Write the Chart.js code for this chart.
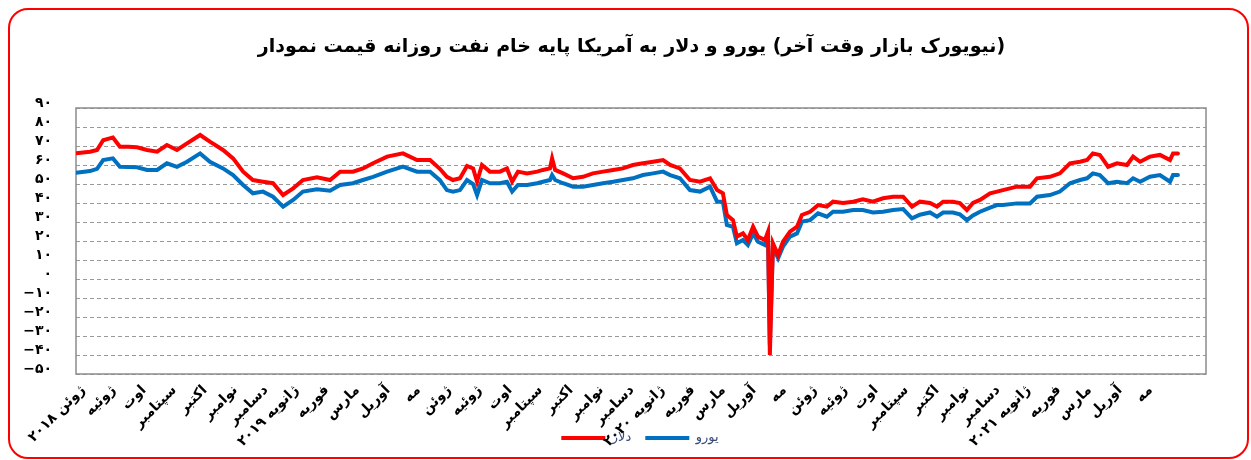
<!DOCTYPE html>
<html>
<head>
<meta charset="utf-8">
<script src="https://cdn.jsdelivr.net/npm/chart.js@4.4.1/dist/chart.umd.min.js"></script>
<style>
  body { margin: 0; background: #fff; }
  #wrap { position: relative; width: 1251px; height: 460px; }
  #frame {
    position: absolute; left: 8px; top: 8px; width: 1241px; height: 451px;
    box-sizing: border-box; border: 2px solid #ff0000; border-radius: 20px;
    pointer-events: none;
  }
</style>
</head>
<body>
<div id="wrap">
  <canvas id="oilChart" width="1251" height="460"></canvas>
  <div id="frame"></div>
</div>
<script>
// months since June 2018
const dates = [
  -0.23, 0.23, 0.46, 0.66, 0.98, 1.21, 1.48, 1.77, 2.10, 2.43, 2.75, 3.08, 3.41, 3.84, 4.16, 4.59,
  4.92, 5.25, 5.57, 5.90, 6.23, 6.56, 6.89, 7.21, 7.67, 8.10, 8.43, 8.85, 9.18, 9.51, 9.97, 10.49,
  10.95, 11.38, 11.70, 11.93, 12.13, 12.36, 12.59, 12.79, 12.92, 13.08, 13.34, 13.67, 13.90, 14.07,
  14.26, 14.56, 14.89, 15.08, 15.31, 15.38, 15.48, 15.74, 16.07, 16.39, 16.72, 17.05, 17.38, 17.70,
  18.03, 18.36, 18.69, 19.02, 19.25, 19.57, 19.90, 20.23, 20.56, 20.79, 20.98, 21.11, 21.31, 21.44,
  21.64, 21.80, 21.97, 22.13, 22.36, 22.46, 22.52, 22.62, 22.79, 22.95, 23.18, 23.41, 23.57, 23.84,
  24.10, 24.39, 24.59, 24.92, 25.25, 25.57, 25.90, 26.23, 26.56, 26.89, 27.18, 27.44, 27.77, 28.00,
  28.20, 28.52, 28.75, 28.98, 29.18, 29.41, 29.74, 29.97, 30.16, 30.62, 31.05, 31.28, 31.70, 32.03,
  32.36, 32.69, 32.92, 33.11, 33.34, 33.61, 33.90, 34.23, 34.43, 34.66, 34.98, 35.31, 35.64, 35.74, 35.90
];

const dollar = [
  66.2, 67, 67.9, 73, 74.5, 69.6, 69.6, 69.3, 67.9, 67, 70.5, 67.9, 71.4, 75.8, 72.3, 67.9,
  63.5, 56.5, 52.1, 51.2, 50.4, 44.2, 47.7, 52.1, 53.5, 52.1, 56.5, 56.5, 58.2, 60.9, 64.4, 66.1,
  62.6, 62.6, 58, 53.8, 52.1, 53, 59.5, 58.2, 51.2, 60, 56.5, 56.5, 58.2, 51.2,
  56.5, 55.6, 56.5, 57.4, 58.2, 63.5, 57.4, 55.6, 53, 53.8, 55.6, 56.5, 57.4, 58.2,
  60, 60.9, 61.7, 62.6, 60, 58.2, 52.1, 51.2, 53, 46.8, 45.1, 33.7, 31, 22.3,
  24, 20.5, 27.5, 22.3, 20.5, 24.9, -40, 18.8, 12.6, 19.6, 24.9, 27.5, 33.7, 35.4,
  38.9, 38.1, 40.7, 40, 40.7, 41.9, 40.7, 42.5, 43.3, 43.3, 38.1, 40.7, 40, 38.1,
  40.7, 40.7, 40, 36.3, 40, 41.6, 45.1, 46, 46.8, 48.6, 48.6, 53, 53.8, 55.6,
  60.9, 61.7, 62.6, 66.1, 65.3, 59.1, 60.9, 60, 64.4, 61.7, 64.4, 65.3, 62.6, 66.1, 66.1
];

const euro = [
  55.9, 56.8, 58, 62.6, 63.5, 59.1, 59, 58.8, 57.4, 57.4, 60.9, 59, 61.7, 66.1, 61.7, 58.2,
  54.7, 49.5, 45.1, 46, 43.3, 38.1, 41.6, 46, 47.2, 46.5, 49.5, 50.4, 52.1, 53.8, 56.5, 59.1,
  56.5, 56.5, 52, 46.8, 46, 46.8, 52.1, 50, 44.2, 52.1, 50.4, 50.4, 51.2, 46,
  49.5, 49.5, 50.4, 51.2, 52.1, 54.7, 52.1, 50.4, 48.6, 48.6, 49.5, 50.4, 51.2, 52.1,
  53, 54.7, 55.6, 56.5, 54.7, 53, 46.8, 46, 48.6, 40.7, 40.7, 28.4, 27.5, 18.8,
  20.5, 17.9, 24, 19.6, 17.9, 21.5, -34.6, 17, 10.9, 17, 22.3, 24, 30.2, 31,
  34.6, 32.8, 35.4, 35.4, 36.3, 36.3, 35, 35.4, 36.3, 36.8, 31.9, 33.8, 35, 32.8,
  35, 35, 34, 31, 33.5, 35.4, 37.6, 38.9, 38.9, 39.8, 39.8, 43.3, 44.2, 46,
  50.4, 52.1, 53, 55.6, 54.7, 50.4, 51.2, 50.4, 53, 51.2, 53.8, 54.7, 51.2, 54.7, 54.7
];

const monthLabels = [
  'ژوئن ۲۰۱۸', 'ژوئیه', 'اوت', 'سپتامبر', 'اکتبر', 'نوامبر', 'دسامبر',
  'ژانویه ۲۰۱۹', 'فوریه', 'مارس', 'آوریل', 'مه', 'ژوئن', 'ژوئیه', 'اوت', 'سپتامبر', 'اکتبر', 'نوامبر', 'دسامبر',
  'ژانویه ۲۰۲۰', 'فوریه', 'مارس', 'آوریل', 'مه', 'ژوئن', 'ژوئیه', 'اوت', 'سپتامبر', 'اکتبر', 'نوامبر', 'دسامبر',
  'ژانویه ۲۰۲۱', 'فوریه', 'مارس', 'آوریل', 'مه'
];

const yTicks = [90, 80, 70, 60, 50, 40, 30, 20, 10, 0, -10, -20, -30, -40, -50];

// the source picture lays the title words out left to right
const titleWords = ['نمودار', 'قیمت', 'روزانه', 'نفت', 'خام', 'پایه', 'آمریکا', 'به', 'دلار', 'و', 'یورو', '(', 'آخر', 'وقت', 'بازار', 'نیویورک', ')'];

const seriesNames = ['یورو', 'دلار'];

const font = "'DejaVu Sans', 'Noto Sans', sans-serif";

function toPersian(n) {
    const digits = '۰۱۲۳۴۵۶۷۸۹';
    const s = String(Math.abs(n)).replace(/[0-9]/g, d => digits[d]);
    return n < 0 ? '−' + s : s;
}

// gray box around the plot area
const plotFrame = {
    id: 'plotFrame',
    beforeDatasetsDraw(chart) {
        const { ctx, chartArea: a } = chart;
        ctx.save();
        ctx.strokeStyle = '#8c8c8c';
        ctx.lineWidth = 1.5;
        ctx.strokeRect(a.left, a.top, a.right - a.left, a.bottom - a.top);
        ctx.restore();
    }
};

// title, word by word
const titleDraw = {
    id: 'titleDraw',
    afterDraw(chart) {
        const ctx = chart.ctx;
        ctx.save();
        ctx.font = 'bold 19px ' + font;
        ctx.fillStyle = '#000';
        ctx.textAlign = 'left';
        ctx.textBaseline = 'middle';
        const space = ctx.measureText(' ').width;
        const gaps = titleWords.map((w, i) =>
            i === 0 || w === ')' || titleWords[i - 1] === '(' ? 0 : space);
        const widths = titleWords.map(w => ctx.measureText(w).width);
        const total = widths.reduce((a, b) => a + b, 0) + gaps.reduce((a, b) => a + b, 0);
        let x = chart.width / 2 + 6 - total / 2;
        titleWords.forEach((w, i) => {
            x += gaps[i];
            ctx.fillText(w, x, 47);
            x += widths[i];
        });
        ctx.restore();
    }
};

// legend sits under the plot, over the month labels
const moveLegend = {
    id: 'moveLegend',
    afterLayout(chart) {
        const lg = chart.legend;
        const h = lg.bottom - lg.top;
        lg.top = 417.5;
        lg.bottom = lg.top + h;
        lg.left += 27;
        lg.right += 27;
    }
};

const ctx = document.getElementById('oilChart').getContext('2d');

new Chart(ctx, {
    type: 'line',
    data: {
        datasets: [
            {
                label: seriesNames[0],
                data: dates.map((t, i) => ({ x: t, y: euro[i] })),
                borderColor: '#0070c0',
                backgroundColor: '#0070c0',
                borderWidth: 4,
                borderCapStyle: 'round',
                pointRadius: 0,
                tension: 0,
                order: 1
            },
            {
                label: seriesNames[1],
                data: dates.map((t, i) => ({ x: t, y: dollar[i] })),
                borderColor: '#ff0000',
                backgroundColor: '#ff0000',
                borderWidth: 4,
                borderCapStyle: 'round',
                pointRadius: 0,
                tension: 0,
                order: 0
            }
        ]
    },
    options: {
        responsive: false,
        animation: false,
        layout: { padding: { left: 20, right: 45, top: 71, bottom: 2 } },
        plugins: {
            title: { display: false },
            legend: {
                position: 'top',
                labels: {
                    usePointStyle: true,
                    pointStyle: 'line',
                    pointStyleWidth: 44,
                    padding: 14,
                    color: '#3a4a7a',
                    font: { family: font, size: 13 }
                }
            },
            tooltip: { enabled: false }
        },
        scales: {
            x: {
                type: 'linear',
                min: -0.23,
                max: 36.82,
                afterBuildTicks: s => { s.ticks = monthLabels.map((_, i) => ({ value: i })); },
                afterFit: s => { s.height = 84; },
                grid: { display: false },
                border: { display: false },
                ticks: {
                    autoSkip: false,
                    minRotation: 45,
                    maxRotation: 45,
                    padding: 0,
                    color: '#000',
                    font: { family: font, size: 14, weight: 'bold' },
                    callback: v => monthLabels[v] || ''
                }
            },
            y: {
                min: -50,
                max: 90,
                afterBuildTicks: s => { s.ticks = yTicks.map(v => ({ value: v })); },
                afterFit: s => { s.width = 56; },
                grid: { color: '#999999', lineWidth: 1, drawTicks: false },
                border: { display: false, dash: [4, 3] },
                ticks: {
                    autoSkip: false,
                    padding: 24,
                    labelOffset: -5,
                    color: '#000',
                    font: { family: font, size: 14, weight: 'bold' },
                    callback: v => toPersian(v)
                }
            }
        }
    },
    plugins: [plotFrame, titleDraw, moveLegend]
});
</script>
</body>
</html>
